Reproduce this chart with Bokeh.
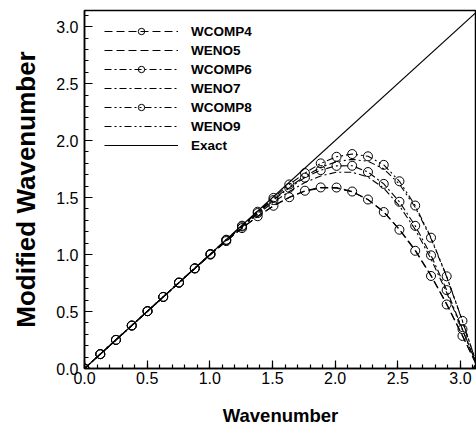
from bokeh.plotting import figure
from bokeh.models import Range1d, SingleIntervalTicker, PrintfTickFormatter, Legend, LegendItem
from bokeh.embed import file_html
from bokeh.resources import INLINE

wavenumber = [0.0, 0.126, 0.251, 0.377, 0.503, 0.628, 0.754, 0.880, 1.005, 1.131,
              1.257, 1.382, 1.508, 1.634, 1.759, 1.885, 2.011, 2.136, 2.262, 2.388,
              2.513, 2.639, 2.765, 2.890, 3.016, 3.142]

wcomp4 = [0, 0.126, 0.251, 0.377, 0.503, 0.628, 0.753, 0.877, 0.999, 1.118,
          1.232, 1.336, 1.428, 1.503, 1.560, 1.589, 1.588, 1.553, 1.483, 1.373,
          1.218, 1.033, 0.812, 0.562, 0.286, 0.0]
weno5 = [0, 0.126, 0.251, 0.377, 0.503, 0.628, 0.753, 0.877, 0.999, 1.118,
         1.231, 1.335, 1.426, 1.500, 1.556, 1.584, 1.583, 1.550, 1.482, 1.375,
         1.222, 1.040, 0.818, 0.568, 0.290, 0.0]
wcomp6 = [0, 0.126, 0.251, 0.377, 0.503, 0.628, 0.754, 0.879, 1.003, 1.126,
          1.246, 1.364, 1.478, 1.585, 1.675, 1.741, 1.778, 1.779, 1.724, 1.620,
          1.463, 1.252, 0.993, 0.688, 0.345, 0.0]
weno7 = [0, 0.126, 0.251, 0.377, 0.503, 0.628, 0.754, 0.879, 1.002, 1.124,
         1.242, 1.355, 1.460, 1.554, 1.632, 1.690, 1.722, 1.722, 1.680, 1.583,
         1.428, 1.220, 0.962, 0.665, 0.338, 0.0]
wcomp8 = [0, 0.126, 0.251, 0.377, 0.503, 0.628, 0.754, 0.880, 1.005, 1.130,
          1.253, 1.376, 1.497, 1.615, 1.715, 1.800, 1.858, 1.882, 1.862, 1.787,
          1.643, 1.430, 1.148, 0.809, 0.418, 0.0]
weno9 = [0, 0.126, 0.251, 0.377, 0.503, 0.628, 0.754, 0.880, 1.005, 1.129,
         1.251, 1.370, 1.486, 1.593, 1.687, 1.765, 1.815, 1.835, 1.818, 1.752,
         1.618, 1.415, 1.140, 0.805, 0.415, 0.0]
exact_k = [0.0, 3.1416]
exact_y = [0.0, 3.1416]

FONT = "Liberation Sans"

p = figure(width=476, height=428, output_backend="svg", toolbar_location=None,
           x_range=Range1d(0, 3.128), y_range=Range1d(0, 3.1416),
           min_border_left=84, min_border_right=0, min_border_top=10, min_border_bottom=59)
p.xgrid.visible = False
p.ygrid.visible = False
p.outline_line_color = "black"
p.outline_line_width = 1.5
p.background_fill_color = "white"
p.border_fill_color = "white"

for ax in (p.xaxis[0], p.yaxis[0]):
    ax.ticker = SingleIntervalTicker(interval=0.5, num_minor_ticks=5)
    ax.formatter = PrintfTickFormatter(format="%.1f")
    ax.major_tick_in = 8
    ax.major_tick_out = 0
    ax.minor_tick_in = 4
    ax.minor_tick_out = 0
    ax.axis_line_width = 1.5
    ax.major_tick_line_width = 1.2
    ax.minor_tick_line_width = 1.2
    ax.major_label_text_font = FONT
    ax.major_label_text_font_size = "16px"
    ax.major_label_text_color = "black"
    ax.axis_label_text_font = FONT
    ax.axis_label_text_font_style = "bold"
    ax.axis_label_text_color = "black"

p.xaxis.axis_label = "Wavenumber"
p.yaxis.axis_label = "Modified Wavenumber"
p.xaxis.axis_label_text_font_size = "18.5px"
p.yaxis.axis_label_text_font_size = "26px"
p.xaxis.major_label_standoff = 3
p.yaxis.major_label_standoff = 6
p.xaxis.axis_label_standoff = 18
p.yaxis.axis_label_standoff = 12

lw = 1.1
r_c4 = p.line(wavenumber, wcomp4, line_color="black", line_width=lw, line_dash="8 4")
s_c4 = p.scatter(wavenumber, wcomp4, marker="circle", size=9, fill_alpha=0,
                 line_color="black", line_width=1)
r_w5 = p.line(wavenumber, weno5, line_color="black", line_width=lw, line_dash="8 4")
r_c6 = p.line(wavenumber, wcomp6, line_color="black", line_width=lw, line_dash="7 3 2 3")
s_c6 = p.scatter(wavenumber, wcomp6, marker="circle", size=9, fill_alpha=0,
                 line_color="black", line_width=1)
r_w7 = p.line(wavenumber, weno7, line_color="black", line_width=lw, line_dash="7 3 2 3")
r_c8 = p.line(wavenumber, wcomp8, line_color="black", line_width=lw, line_dash="7 3 2 3 2 3")
s_c8 = p.scatter(wavenumber, wcomp8, marker="circle", size=9, fill_alpha=0,
                 line_color="black", line_width=1)
r_w9 = p.line(wavenumber, weno9, line_color="black", line_width=lw, line_dash="7 3 2 3 2 3")
r_ex = p.line(exact_k, exact_y, line_color="black", line_width=1.2)

legend = Legend(items=[
    LegendItem(label="WCOMP4", renderers=[r_c4, s_c4]),
    LegendItem(label="WENO5", renderers=[r_w5]),
    LegendItem(label="WCOMP6", renderers=[r_c6, s_c6]),
    LegendItem(label="WENO7", renderers=[r_w7]),
    LegendItem(label="WCOMP8", renderers=[r_c8, s_c8]),
    LegendItem(label="WENO9", renderers=[r_w9]),
    LegendItem(label="Exact", renderers=[r_ex]),
], location="top_left")
legend.margin = 0
legend.padding = 0
legend.location = (20, 215)
legend.border_line_alpha = 0
legend.background_fill_alpha = 0
legend.glyph_width = 74
legend.glyph_height = 16
legend.label_height = 16
legend.spacing = 3
legend.label_standoff = 13
legend.label_text_font = FONT
legend.label_text_font_size = "13.5px"
legend.label_text_font_style = "bold"
legend.label_text_color = "black"
p.add_layout(legend)

open("out.html", "w").write(file_html(p, INLINE))
